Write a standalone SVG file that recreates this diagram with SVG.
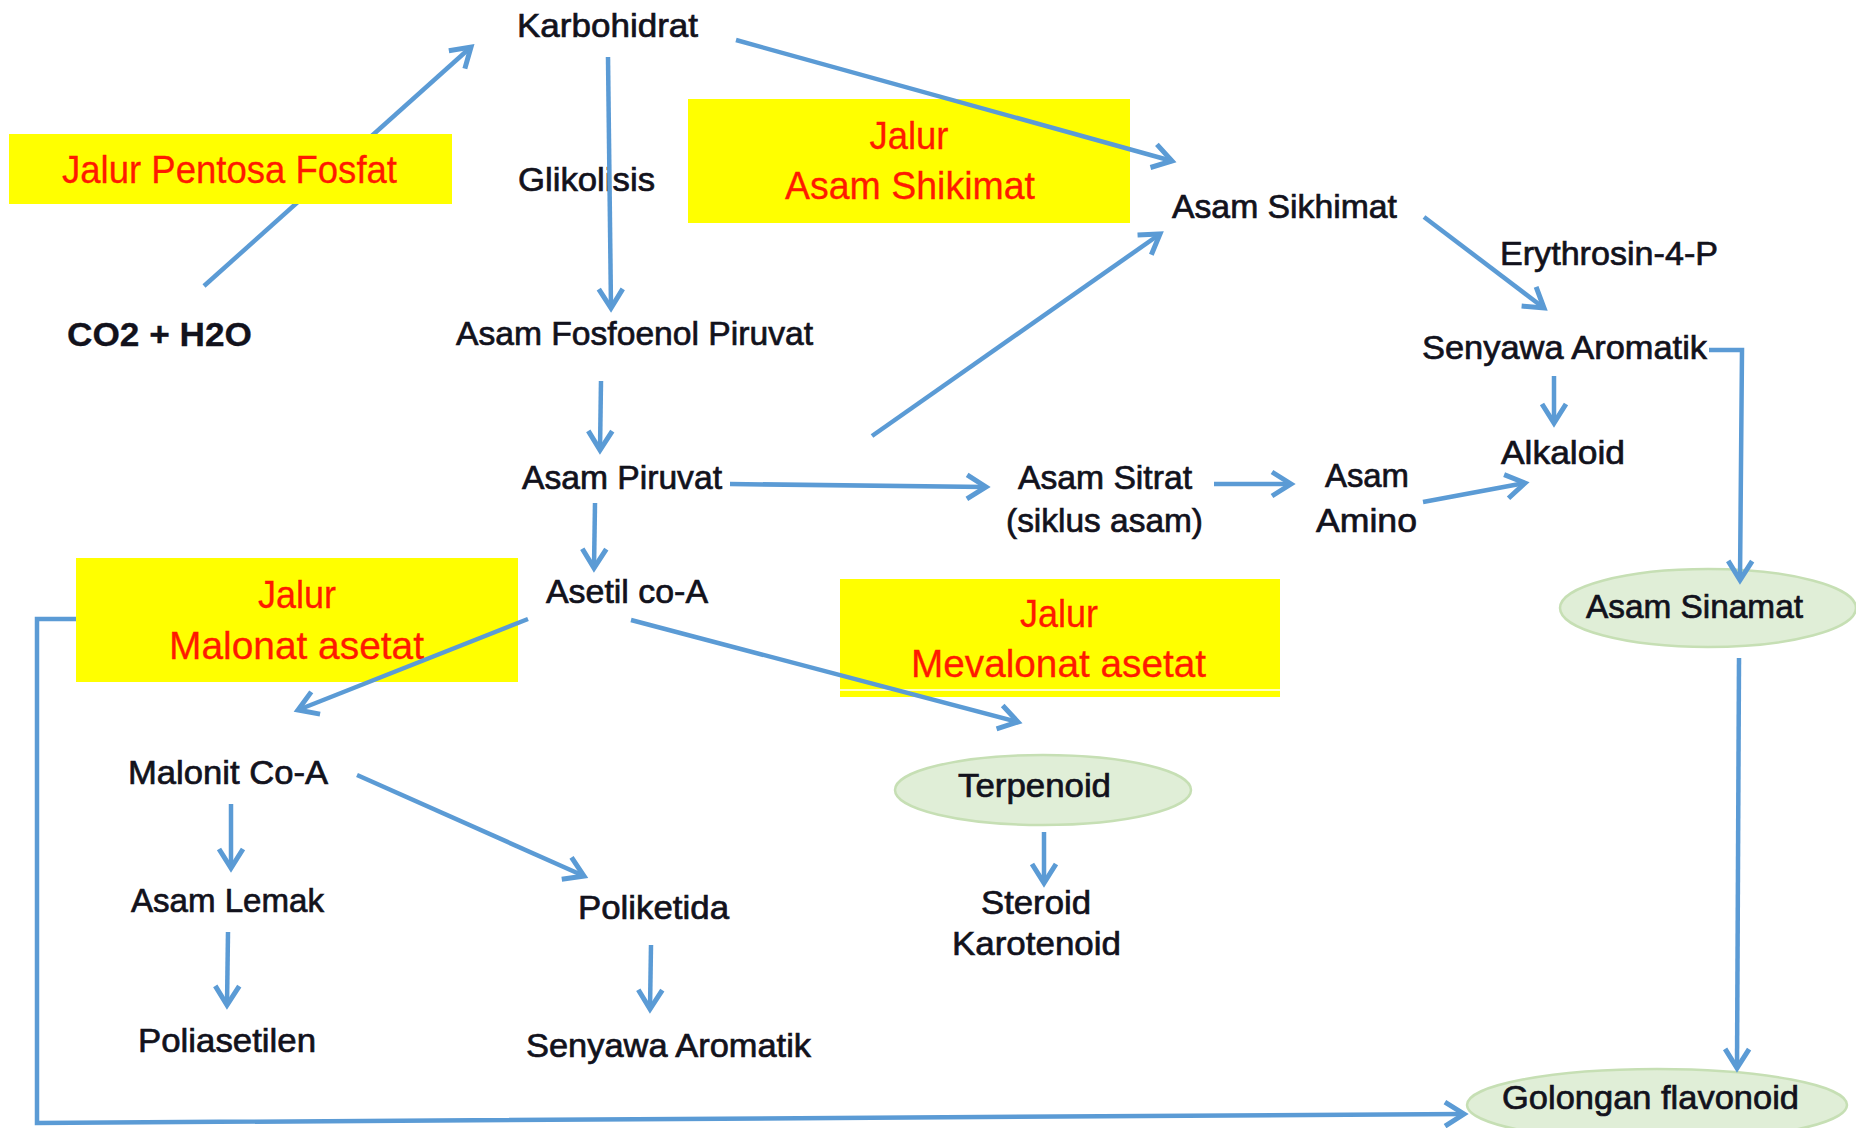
<svg xmlns="http://www.w3.org/2000/svg" width="1856" height="1128" viewBox="0 0 1856 1128">
<style>
.t{font-family:"Liberation Sans",Arial,sans-serif;font-size:34px;fill:#12121c;stroke:#12121c;stroke-width:0.7}
.b{font-weight:bold;stroke-width:0.3}
.r{font-family:"Liberation Sans",Arial,sans-serif;font-size:38px;fill:#ff1a00;stroke:#ff1a00;stroke-width:0.3}
.box{fill:#ffff00}
.ell{fill:#e0eed7;stroke:#c6dfb4;stroke-width:2.5}
.c{fill:none;stroke:#5b9bd5;stroke-width:4.5;marker-end:url(#ah)}
</style>
<defs>
<marker id="ah" markerUnits="userSpaceOnUse" viewBox="-26 -16 32 32" markerWidth="32" markerHeight="32" refX="0" refY="0" orient="auto" overflow="visible">
<path d="M-19,-12 L0,0 L-19,12" fill="none" stroke="#5b9bd5" stroke-width="5"/>
</marker>
</defs>
<rect width="1856" height="1128" fill="#fff"/>

<g id="box-shikimat"><rect class="box" x="688" y="99" width="442" height="124"/>
<text class="r" x="909" y="149" text-anchor="middle" textLength="79" lengthAdjust="spacingAndGlyphs">Jalur</text>
<text class="r" x="785" y="199" textLength="250" lengthAdjust="spacingAndGlyphs">Asam Shikimat</text></g>
<g id="box-malonat"><rect class="box" x="76" y="558" width="442" height="124"/>
<text class="r" x="297" y="608" text-anchor="middle" textLength="78" lengthAdjust="spacingAndGlyphs">Jalur</text>
<text class="r" x="169" y="659" textLength="255" lengthAdjust="spacingAndGlyphs">Malonat asetat</text></g>
<g id="box-mevalonat"><rect class="box" x="840" y="579" width="440" height="118"/>
<line x1="840" y1="690" x2="1280" y2="690" stroke="#fff" stroke-width="1.5"/>
<text class="r" x="1059" y="627" text-anchor="middle" textLength="78" lengthAdjust="spacingAndGlyphs">Jalur</text>
<text class="r" x="911" y="677" textLength="295" lengthAdjust="spacingAndGlyphs">Mevalonat asetat</text></g>

<g id="n-asam-sinamat"><ellipse class="ell" cx="1708" cy="608" rx="148" ry="39"/>
<text class="t" x="1586" y="618" textLength="217" lengthAdjust="spacingAndGlyphs">Asam Sinamat</text></g>
<g id="n-terpenoid"><ellipse class="ell" cx="1043" cy="790" rx="148" ry="35"/>
<text class="t" x="958" y="797" textLength="153" lengthAdjust="spacingAndGlyphs">Terpenoid</text></g>
<g id="n-golongan"><ellipse class="ell" cx="1657" cy="1105" rx="190" ry="36"/>
<text class="t" x="1502" y="1109" textLength="297" lengthAdjust="spacingAndGlyphs">Golongan flavonoid</text></g>

<g id="n-karbohidrat"><text class="t" x="517" y="37" textLength="181" lengthAdjust="spacingAndGlyphs">Karbohidrat</text></g>
<g id="n-glikolisis"><text class="t" x="518" y="191" textLength="137" lengthAdjust="spacingAndGlyphs">Glikolisis</text></g>
<g id="n-asam-sikhimat"><text class="t" x="1172" y="218" textLength="225" lengthAdjust="spacingAndGlyphs">Asam Sikhimat</text></g>
<g id="n-erythrosin"><text class="t" x="1500" y="265" textLength="218" lengthAdjust="spacingAndGlyphs">Erythrosin-4-P</text></g>
<g id="n-co2"><text class="t b" x="67" y="346" textLength="185" lengthAdjust="spacingAndGlyphs">CO2 + H2O</text></g>
<g id="n-pep"><text class="t" x="456" y="345" textLength="357" lengthAdjust="spacingAndGlyphs">Asam Fosfoenol Piruvat</text></g>
<g id="n-senyawa-aromatik-1"><text class="t" x="1422" y="359" textLength="285" lengthAdjust="spacingAndGlyphs">Senyawa Aromatik</text></g>
<g id="n-alkaloid"><text class="t" x="1501" y="464" textLength="124" lengthAdjust="spacingAndGlyphs">Alkaloid</text></g>
<g id="n-asam-piruvat"><text class="t" x="522" y="489" textLength="200" lengthAdjust="spacingAndGlyphs">Asam Piruvat</text></g>
<g id="n-asam-sitrat"><text class="t" x="1018" y="489" textLength="174" lengthAdjust="spacingAndGlyphs">Asam Sitrat</text>
<text class="t" x="1006" y="532" textLength="197" lengthAdjust="spacingAndGlyphs">(siklus asam)</text></g>
<g id="n-asam-amino"><text class="t" x="1325" y="487" textLength="84" lengthAdjust="spacingAndGlyphs">Asam</text>
<text class="t" x="1316" y="532" textLength="101" lengthAdjust="spacingAndGlyphs">Amino</text></g>
<g id="n-asetil"><text class="t" x="546" y="603" textLength="162" lengthAdjust="spacingAndGlyphs">Asetil co-A</text></g>
<g id="n-malonit"><text class="t" x="128" y="784" textLength="200" lengthAdjust="spacingAndGlyphs">Malonit Co-A</text></g>
<g id="n-asam-lemak"><text class="t" x="131" y="912" textLength="193" lengthAdjust="spacingAndGlyphs">Asam Lemak</text></g>
<g id="n-poliketida"><text class="t" x="578" y="919" textLength="151" lengthAdjust="spacingAndGlyphs">Poliketida</text></g>
<g id="n-steroid"><text class="t" x="981" y="914" textLength="110" lengthAdjust="spacingAndGlyphs">Steroid</text>
<text class="t" x="952" y="955" textLength="169" lengthAdjust="spacingAndGlyphs">Karotenoid</text></g>
<g id="n-poliasetilen"><text class="t" x="138" y="1052" textLength="178" lengthAdjust="spacingAndGlyphs">Poliasetilen</text></g>
<g id="n-senyawa-aromatik-2"><text class="t" x="526" y="1057" textLength="285" lengthAdjust="spacingAndGlyphs">Senyawa Aromatik</text></g>

<g id="connectors">
<path class="c" d="M204,286 L471,47"/>
<path class="c" d="M608,57 L611,308"/>
<path class="c" d="M736,40 L1172,161"/>
<path class="c" d="M601,381 L600,450"/>
<path class="c" d="M872,436 L1160,234"/>
<path class="c" d="M730,484 L986,487"/>
<path class="c" d="M1214,484 L1291,484"/>
<path class="c" d="M1423,502 L1525,483"/>
<path class="c" d="M1424,217 L1544,308"/>
<path class="c" d="M1554,376 L1554,423"/>
<path class="c" d="M1709,350 L1742,350 L1740,580"/>
<path class="c" d="M1739,658 L1737,1068"/>
<path class="c" d="M595,503 L594,568"/>
<path class="c" d="M528,619 L298,710"/>
<path class="c" d="M631,620 L1018,722"/>
<path class="c" d="M231,804 L231,868"/>
<path class="c" d="M357,775 L584,876"/>
<path class="c" d="M228,932 L227,1005"/>
<path class="c" d="M651,945 L650,1009"/>
<path class="c" d="M1044,832 L1044,883"/>
<path class="c" d="M76,619 L37,619 L37,1123 L1464,1114"/>
</g>

<g id="box-pentosa"><rect class="box" x="9" y="134" width="443" height="70"/>
<text class="r" x="62" y="183" textLength="335" lengthAdjust="spacingAndGlyphs">Jalur Pentosa Fosfat</text></g>
</svg>
